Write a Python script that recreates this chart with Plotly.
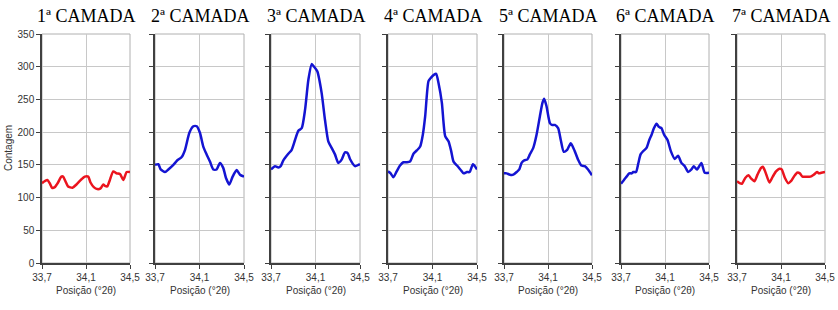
import plotly.graph_objects as go

titles = ["1ª CAMADA", "2ª CAMADA", "3ª CAMADA", "4ª CAMADA", "5ª CAMADA", "6ª CAMADA", "7ª CAMADA"]
x_tick_vals = [33.7, 34.1, 34.5]
x_tick_text = ["33,7", "34,1", "34,5"]
y_tick_vals = [0, 50, 100, 150, 200, 250, 300, 350]

x1 = [33.700, 33.724, 33.749, 33.770, 33.791, 33.816, 33.846, 33.876, 33.892, 33.913, 33.937, 33.977, 34.013, 34.059, 34.089,
      34.120, 34.141, 34.171, 34.202, 34.232, 34.257, 34.272, 34.293, 34.317, 34.348, 34.378, 34.409, 34.439, 34.470, 34.500]
y1 = [122, 125, 127, 122, 115, 116, 123, 132, 132, 125, 117, 115, 120, 128, 132,
      132, 123, 116, 113, 114, 120, 118, 117, 127, 140, 137, 136, 127, 139, 139]

x2 = [33.700, 33.730, 33.751, 33.790, 33.820, 33.865, 33.901, 33.940, 33.970, 34.009, 34.045, 34.075, 34.104, 34.134, 34.164,
      34.194, 34.224, 34.254, 34.284, 34.314, 34.338, 34.368, 34.398, 34.434, 34.464, 34.500]
y2 = [150, 151, 143, 139, 143, 150, 157, 162, 173, 199, 209, 209, 199, 178, 166,
      155, 143, 143, 153, 145, 130, 120, 132, 142, 135, 132]

x3 = [33.700, 33.736, 33.766, 33.787, 33.811, 33.856, 33.886, 33.916, 33.946, 33.976, 34.006, 34.036, 34.066, 34.087, 34.116,
      34.155, 34.185, 34.215, 34.245, 34.275, 34.305, 34.335, 34.365, 34.389, 34.410, 34.455, 34.500]
y3 = [143, 148, 146, 148, 157, 167, 173, 188, 202, 206, 234, 280, 304, 300, 293,
      260, 219, 186, 176, 166, 153, 158, 169, 168, 159, 148, 151]

x4 = [33.700, 33.724, 33.748, 33.778, 33.808, 33.838, 33.868, 33.898, 33.929, 33.959, 33.989, 34.013, 34.034, 34.064, 34.085,
      34.115, 34.133, 34.154, 34.184, 34.214, 34.244, 34.268, 34.289, 34.320, 34.350, 34.380, 34.410, 34.434, 34.464, 34.500]
y4 = [140, 137, 131, 140, 149, 154, 154, 155, 167, 172, 178, 196, 224, 278, 283,
      288, 289, 275, 245, 194, 186, 171, 155, 149, 143, 137, 139, 139, 151, 143]

x5 = [33.700, 33.724, 33.754, 33.785, 33.815, 33.839, 33.860, 33.884, 33.911, 33.935, 33.966, 33.996, 34.026, 34.050, 34.065,
      34.086, 34.117, 34.135, 34.162, 34.192, 34.216, 34.243, 34.274, 34.307, 34.343, 34.373, 34.403, 34.434, 34.464, 34.500]
y5 = [137, 137, 135, 135, 139, 143, 153, 157, 158, 166, 176, 196, 224, 245, 251,
      240, 214, 211, 211, 206, 188, 170, 173, 183, 171, 158, 149, 148, 143, 134]

x6 = [33.700, 33.727, 33.751, 33.775, 33.797, 33.812, 33.836, 33.857, 33.878, 33.902, 33.932, 33.957, 33.978, 33.999, 34.023,
      34.044, 34.068, 34.092, 34.123, 34.153, 34.189, 34.219, 34.249, 34.280, 34.310, 34.340, 34.361, 34.391, 34.431, 34.461, 34.500]
y6 = [121, 127, 132, 137, 137, 139, 139, 152, 166, 171, 176, 188, 196, 206, 213,
      208, 206, 196, 188, 171, 159, 164, 153, 148, 139, 143, 148, 143, 153, 138, 138]

x7 = [33.700, 33.724, 33.745, 33.775, 33.805, 33.829, 33.859, 33.886, 33.917, 33.935, 33.956, 33.995, 34.025, 34.055, 34.085,
      34.106, 34.136, 34.166, 34.190, 34.217, 34.247, 34.271, 34.295, 34.332, 34.368, 34.398, 34.428, 34.446, 34.467, 34.500]
y7 = [125, 122, 121, 130, 134, 129, 125, 135, 145, 147, 140, 123, 132, 140, 144,
      143, 130, 122, 125, 132, 138, 137, 132, 132, 132, 135, 139, 137, 138, 139]

series_x = [x1, x2, x3, x4, x5, x6, x7]
series_y = [y1, y2, y3, y4, y5, y6, y7]
RED = "rgb(235,20,30)"
BLUE = "rgb(20,20,210)"
colors = [RED, BLUE, BLUE, BLUE, BLUE, BLUE, RED]

W, H = 838, 310
px_left = [42, 155, 271, 388, 504, 621, 737]
px_right = [130, 244, 360, 477, 592, 709, 825]
top_px, bot_px = 34, 263

fig = go.Figure()
layout = dict(
    template="none",
    width=W, height=H,
    margin=dict(l=0, r=0, t=0, b=0, pad=0, autoexpand=False),
    paper_bgcolor="white", plot_bgcolor="white",
    showlegend=False,
    font=dict(family="Liberation Sans, Arial", size=10, color="#333333"),
)
annotations = []
shapes = []
ydom = [(H - bot_px) / H, (H - top_px) / H]
for i in range(7):
    n = "" if i == 0 else str(i + 1)
    xa = "x" + n
    ya = "y" + n
    fig.add_trace(go.Scatter(x=series_x[i], y=series_y[i], mode="lines",
                             line=dict(color=colors[i], width=2.5, shape="spline", smoothing=0.6),
                             xaxis=xa, yaxis=ya, hoverinfo="skip"))
    layout["xaxis" + n] = dict(
        domain=[px_left[i] / W, px_right[i] / W], range=[33.7, 34.5],
        tickvals=x_tick_vals, ticktext=x_tick_text,
        showgrid=True, gridcolor="#c8c8c8", gridwidth=1,
        showline=True, linecolor="#404040", linewidth=1.5,
        ticks="outside", ticklen=4, tickcolor="#404040",
        zeroline=False, anchor=ya, fixedrange=True, automargin=False,
        tickfont=dict(size=10, color="#333333"),
    )
    layout["yaxis" + n] = dict(
        domain=ydom, range=[0, 350], tickvals=y_tick_vals,
        showticklabels=(i == 0),
        showgrid=True, gridcolor="#c8c8c8", gridwidth=1,
        showline=True, linecolor="#404040", linewidth=1.5,
        ticks="outside", ticklen=4, tickcolor="#404040",
        zeroline=False, anchor=xa, fixedrange=True, automargin=False,
        tickfont=dict(size=10, color="#333333"),
    )
    shapes.append(dict(type="rect", xref=xa + " domain", yref=ya + " domain",
                       x0=0, x1=1, y0=0, y1=1, line=dict(color="#b0b0b0", width=1), layer="below"))
    cx = (px_left[i] + px_right[i]) / 2 / W
    annotations.append(dict(text=titles[i], x=cx, y=1 - 16 / H, xref="paper", yref="paper",
                            showarrow=False, xanchor="center", yanchor="middle",
                            font=dict(family="Liberation Serif, Times New Roman", size=18, color="black")))
    annotations.append(dict(text="Posição (°2θ)", x=cx, y=1 - 290 / H, xref="paper", yref="paper",
                            showarrow=False, xanchor="center", yanchor="middle",
                            font=dict(size=10, color="#333333")))
annotations.append(dict(text="Contagem", x=8 / W, y=1 - 148 / H, xref="paper", yref="paper",
                        showarrow=False, textangle=-90, xanchor="center", yanchor="middle",
                        font=dict(size=10, color="#333333")))
layout["annotations"] = annotations
layout["shapes"] = shapes
fig.update_layout(**layout)
fig.write_html("out.html", config={"displayModeBar": False},
               post_script="document.body.style.margin='0';document.body.style.overflow='hidden';")
